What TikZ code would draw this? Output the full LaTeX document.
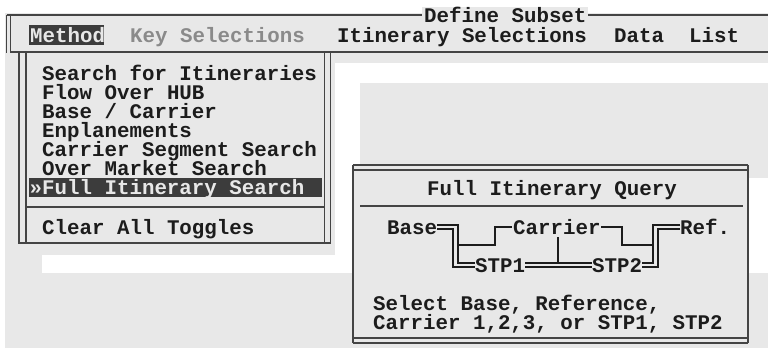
\documentclass[tikz,border=0pt]{standalone}
\usepackage{fontspec}
\newfontfamily\dosfont{Liberation Mono}
\definecolor{bgray}{HTML}{E8E8E8}
\definecolor{frame}{HTML}{444444}
\definecolor{ink}{HTML}{1C1C1C}
\definecolor{dim}{HTML}{8A8A8A}
\definecolor{hilite}{HTML}{3C3C3C}
\begin{document}
\begin{tikzpicture}[x=1pt,y=-1pt,
  txt/.style={font=\dosfont\bfseries\fontsize{20.8}{22}\selectfont, inner sep=0pt, anchor=base west, text=ink},
  ln/.style={draw=frame, line width=1.6pt},
  cn/.style={draw=ink, line width=1.4pt}]
\useasboundingbox (0,0) rectangle (768,348);
% background
\fill[white] (0,0) rectangle (768,348);
\fill[bgray] (5,13) rectangle (768,348);
\fill[white] (335,63) rectangle (768,273);
\fill[bgray] (360,83) rectangle (768,178);
\fill[white] (42,255) rectangle (335,273);
% menu bar
\draw[ln] (6.5,15) -- (768,15);
\draw[ln] (6.5,15) -- (6.5,53);
\draw[ln] (10.5,15) -- (10.5,53);
\draw[ln] (10.5,52) -- (768,52);
\node[txt, fill=bgray, inner xsep=2pt] (title) at (422,22) {Define Subset};
\fill[hilite] (29,25) rectangle (104,45);
\node[txt, text=bgray] (mMethod) at (30,42) {Method};
\node[txt, text=dim] (mKey) at (130,42) {Key Selections};
\node[txt] (mItin) at (337,42) {Itinerary Selections};
\node[txt] (mData) at (614,42) {Data};
\node[txt] (mList) at (689,42) {List};
% dropdown
\fill[bgray] (19,53) rectangle (330,243);
\draw[ln] (19,52) -- (19,243) -- (331,243);
\draw[ln] (26,52) -- (26,243);
\draw[ln] (324.5,52) -- (324.5,243);
\draw[ln] (330.5,52) -- (330.5,243);
\draw[ln] (26,207) -- (324.5,207);
\fill[hilite] (29,178) rectangle (322,197);
\node[txt] (i1) at (42,80) {Search for Itineraries};
\node[txt] (i2) at (42,99) {Flow Over HUB};
\node[txt] (i3) at (42,118) {Base / Carrier};
\node[txt] (i4) at (42,137) {Enplanements};
\node[txt] (i5) at (42,156) {Carrier Segment Search};
\node[txt] (i6) at (42,175) {Over Market Search};
\node[txt, text=bgray] (i7) at (29.5,194) {»Full Itinerary Search};
\node[txt] (i8) at (42,234) {Clear All Toggles};
% query box
\fill[bgray] (353,165) rectangle (748,343);
\draw[ln] (353,165) -- (748,165);
\draw[ln] (353,170) -- (748,170);
\draw[ln] (353,338) -- (748,338);
\draw[ln] (353,343) -- (748,343);
\draw[ln] (353,165) -- (353,343);
\draw[ln] (748,165) -- (748,343);
\node[txt] (qtitle) at (427,195) {Full Itinerary Query};
\draw[ln] (360,206) -- (743,206);
\node[txt] (base) at (387,234) {Base};
\node[txt] (carrier) at (513,234) {Carrier};
\node[txt] (ref) at (680,234) {Ref.};
\node[txt] (stp1) at (475,272) {STP1};
\node[txt] (stp2) at (592,272) {STP2};
% connectors
\draw[cn] (437,225) -- (458,225) -- (458,263) -- (475,263);
\draw[cn] (437,229) -- (453,229) -- (453,267) -- (475,267);
\draw[cn] (458,245) -- (495,245) -- (495,227) -- (512,227);
\draw[cn] (601,227) -- (622,227) -- (622,245) -- (653,245);
\draw[cn] (680,225) -- (653,225) -- (653,263) -- (642,263);
\draw[cn] (680,229) -- (658,229) -- (658,267) -- (642,267);
\draw[cn] (525,263) -- (592,263);
\draw[cn] (525,267) -- (592,267);
\draw[cn] (558,237) -- (558,263);
\node[txt] (help1) at (373,310) {Select Base, Reference,};
\node[txt] (help2) at (373,329) {Carrier 1,2,3, or STP1, STP2};
\end{tikzpicture}
\end{document}
